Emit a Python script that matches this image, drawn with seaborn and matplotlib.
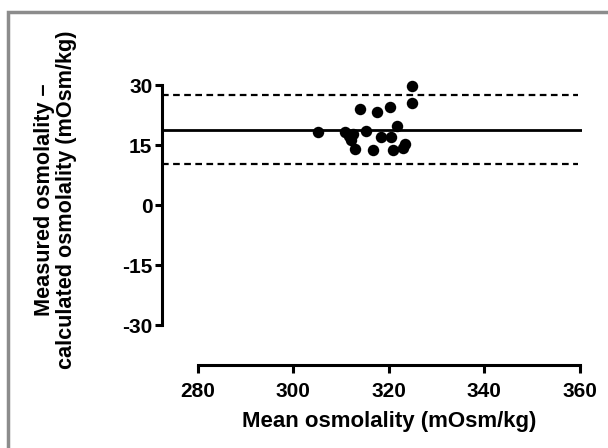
import matplotlib
matplotlib.use("Agg")
import matplotlib.pyplot as plt
import seaborn as sns
import pandas as pd
from matplotlib.patches import Rectangle

# Bland-Altman data
mean_osm = [305.1, 310.9, 311.6, 312.6, 312.1, 313.0, 313.9, 315.3, 316.8,
            317.5, 318.4, 320.3, 320.5, 320.8, 321.7, 322.9, 323.5, 324.9, 324.9]
diff_osm = [18.2, 18.3, 17.4, 17.7, 16.2, 14.1, 24.0, 18.6, 13.7,
            23.2, 17.0, 24.6, 17.0, 13.7, 19.8, 14.4, 15.2, 25.6, 29.8]
bias = 18.8
upper_loa = 27.5
lower_loa = 10.2

x_ticks = [280, 300, 320, 340, 360]
y_ticks = [-30, -15, 0, 15, 30]

df = pd.DataFrame({"mean": mean_osm, "diff": diff_osm})

sns.set_style("ticks")
plt.rcParams["font.family"] = ["Liberation Sans", "DejaVu Sans"]
plt.rcParams["font.weight"] = "bold"
plt.rcParams["axes.unicode_minus"] = False
plt.rcParams["text.color"] = "black"
plt.rcParams["axes.labelcolor"] = "black"

fig = plt.figure(figsize=(6.08, 4.48), dpi=100)
ax = fig.add_axes([162 / 608, 1 - 365 / 448, 420 / 608, 285 / 448])

sns.scatterplot(data=df, x="mean", y="diff", color="black", s=68,
                edgecolor="black", linewidth=0, ax=ax, zorder=3)

ax.axhline(bias, color="black", linewidth=2.0)
ax.axhline(upper_loa, color="black", linewidth=1.6, linestyle=(0, (3, 2)), xmax=0.99)
ax.axhline(lower_loa, color="black", linewidth=1.6, linestyle=(0, (3, 2)), xmax=0.99)

ax.set_xlim(272.5, 360.5)
ax.set_ylim(-40, 31.3)
ax.set_xticks(x_ticks)
ax.set_yticks(y_ticks)
ax.spines["left"].set_bounds(-30, 30)
ax.spines["bottom"].set_bounds(280, 360)
for s in ["left", "bottom"]:
    ax.spines[s].set_linewidth(2.2)
    ax.spines[s].set_color("black")
sns.despine(ax=ax)
ax.tick_params(axis="both", width=2.2, labelsize=15, colors="black")
ax.tick_params(axis="x", length=6, pad=6)
ax.tick_params(axis="y", length=5, pad=2)
for lab in ax.get_xticklabels() + ax.get_yticklabels():
    lab.set_fontweight("bold")

ax.set_xlabel("Mean osmolality (mOsm/kg)", fontsize=16, fontweight="bold")
ax.xaxis.set_label_coords(0.542, -0.16)
ax.set_ylabel("Measured osmolality \u2013\ncalculated osmolality (mOsm/kg)",
              fontsize=15.6, fontweight="bold", linespacing=1.05)
ax.yaxis.set_label_coords(-0.203, 0.579)

# gray frame around the figure
fig.add_artist(Rectangle((8 / 608, -0.1), 1.2, 1 - 12 / 448 + 0.1,
                         transform=fig.transFigure, fill=False,
                         edgecolor="#8c8c8c", linewidth=2.5))

fig.savefig("out.png", dpi=100)
